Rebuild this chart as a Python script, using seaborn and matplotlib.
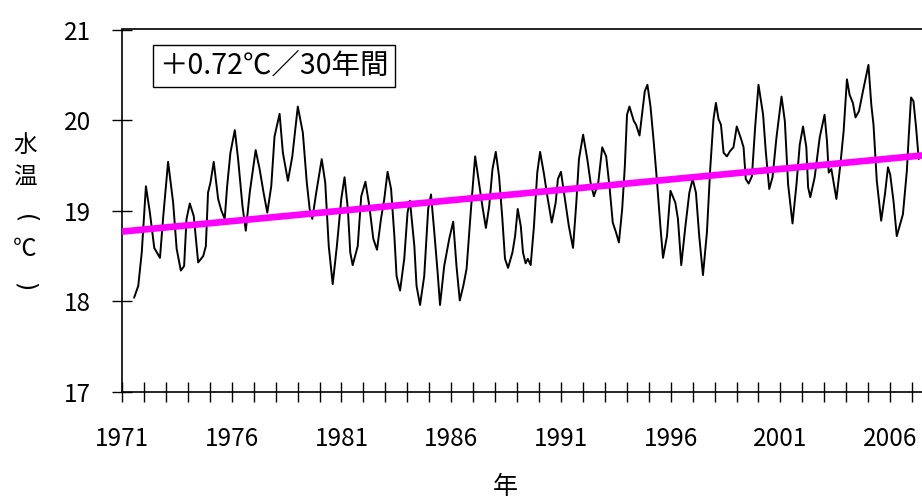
import matplotlib
matplotlib.use("Agg")
import matplotlib.pyplot as plt
import seaborn as sns
import numpy as np
import pandas as pd

# ---- data ----
years = [
    1971.55, 1971.74, 1971.90, 1972.09, 1972.27, 1972.47, 1972.73, 1972.88, 1973.10, 1973.33,
    1973.49, 1973.68, 1973.83, 1973.94, 1974.09, 1974.27, 1974.47, 1974.70, 1974.82, 1974.92,
    1975.03, 1975.18, 1975.38, 1975.53, 1975.68, 1975.79, 1975.94, 1976.14, 1976.29, 1976.49,
    1976.64, 1976.82, 1977.09, 1977.27, 1977.45, 1977.62, 1977.80, 1977.95, 1978.18,
    1978.33, 1978.56, 1978.76, 1979.01, 1979.24, 1979.42, 1979.55, 1979.67, 1979.85, 1980.10,
    1980.26, 1980.42, 1980.60, 1980.79, 1980.99, 1981.14, 1981.29, 1981.40, 1981.51, 1981.74,
    1981.90, 1982.09, 1982.27, 1982.45, 1982.62, 1982.80, 1982.95, 1983.10, 1983.26, 1983.41,
    1983.51, 1983.67, 1983.86, 1984.01, 1984.12, 1984.32, 1984.42, 1984.58, 1984.77, 1984.95,
    1985.08, 1985.23, 1985.38, 1985.49,
    1985.68, 1985.91, 1986.09, 1986.24, 1986.39, 1986.55, 1986.70, 1986.90, 1987.09, 1987.24,
    1987.42, 1987.58, 1987.73, 1987.88, 1988.03, 1988.18, 1988.33, 1988.45, 1988.59, 1988.79,
    1988.91, 1989.03, 1989.17, 1989.27, 1989.39, 1989.49, 1989.62, 1989.77, 1989.92, 1990.05,
    1990.23, 1990.38, 1990.58, 1990.76, 1990.86, 1991.00, 1991.18, 1991.36, 1991.55, 1991.70,
    1991.82, 1992.01, 1992.20, 1992.35, 1992.50, 1992.70, 1992.88,
    1993.06, 1993.21, 1993.36, 1993.51, 1993.64, 1993.79, 1993.91, 1994.01, 1994.12, 1994.32,
    1994.42, 1994.58, 1994.70, 1994.82, 1994.94, 1995.08, 1995.23, 1995.38, 1995.53, 1995.65,
    1995.83, 1995.99, 1996.21, 1996.33, 1996.48, 1996.67, 1996.85, 1997.00, 1997.15, 1997.30,
    1997.47, 1997.65, 1997.80, 1997.95, 1998.06, 1998.18, 1998.29, 1998.41, 1998.56, 1998.71,
    1998.86, 1999.01, 1999.21, 1999.32, 1999.42, 1999.55, 1999.70, 1999.85, 2000.00,
    2000.21, 2000.33, 2000.49, 2000.64, 2000.82, 2001.05, 2001.20, 2001.35, 2001.55, 2001.73,
    2001.88, 2002.03, 2002.18, 2002.26, 2002.36, 2002.56, 2002.79, 2003.01, 2003.12, 2003.20,
    2003.32, 2003.55, 2003.73, 2003.88, 2004.03, 2004.15, 2004.30, 2004.42, 2004.58, 2004.76,
    2005.01, 2005.14, 2005.24, 2005.39, 2005.59, 2005.76, 2005.90, 2006.00, 2006.15, 2006.30,
    2006.58, 2006.76, 2006.85, 2006.95, 2007.06, 2007.18, 2007.30,
]
temps = [
    18.04, 18.17, 18.54, 19.27, 18.98, 18.59, 18.48, 18.94, 19.54, 19.09,
    18.58, 18.34, 18.39, 18.91, 19.08, 18.94, 18.43, 18.50, 18.61, 19.20,
    19.31, 19.54, 19.13, 19.00, 18.91, 19.27, 19.64, 19.89, 19.57, 19.05,
    18.78, 19.20, 19.67, 19.46, 19.20, 18.98, 19.27, 19.82, 20.07,
    19.64, 19.33, 19.60, 20.15, 19.86, 19.31, 19.02, 18.91, 19.20, 19.57,
    19.31, 18.61, 18.19, 18.61, 19.13, 19.37, 19.02, 18.54, 18.40, 18.61,
    19.16, 19.32, 19.05, 18.69, 18.57, 18.91, 19.13, 19.43, 19.24, 18.72,
    18.28, 18.12, 18.47, 18.98, 19.11, 18.61, 18.17, 17.96, 18.28, 19.02,
    19.18, 18.76, 18.32, 17.96,
    18.39, 18.69, 18.88, 18.39, 18.01, 18.17, 18.36, 19.02, 19.60, 19.35,
    19.05, 18.81, 19.05, 19.46, 19.65, 19.38, 18.91, 18.47, 18.37, 18.54,
    18.72, 19.02, 18.83, 18.54, 18.42, 18.47, 18.40, 18.83, 19.42, 19.65,
    19.40, 19.16, 18.87, 19.09, 19.35, 19.43, 19.13, 18.83, 18.59, 19.09,
    19.57, 19.84, 19.57, 19.31, 19.16, 19.31, 19.70,
    19.60, 19.27, 18.87, 18.76, 18.65, 19.02, 19.49, 20.06, 20.15, 19.99,
    19.95, 19.83, 20.08, 20.32, 20.39, 20.15, 19.75, 19.31, 18.83, 18.48,
    18.72, 19.22, 19.09, 18.91, 18.40, 18.83, 19.20, 19.35, 19.20, 18.72,
    18.29, 18.76, 19.46, 20.01, 20.19, 20.01, 19.95, 19.64, 19.60, 19.66,
    19.70, 19.93, 19.79, 19.70, 19.35, 19.30, 19.38, 19.93, 20.39,
    20.06, 19.66, 19.24, 19.37, 19.81, 20.26, 19.99, 19.29, 18.86, 19.29,
    19.73, 19.93, 19.70, 19.26, 19.15, 19.37, 19.81, 20.06, 19.77, 19.42,
    19.46, 19.13, 19.51, 19.88, 20.45, 20.28, 20.19, 20.03, 20.10, 20.32,
    20.61, 20.17, 19.95, 19.33, 18.89, 19.18, 19.48, 19.40, 19.11, 18.72,
    18.96, 19.44, 19.84, 20.25, 20.21, 19.92, 19.57,
]

trend_years = [1971, 2007.45]
trend_values = [18.77, 19.61]

label_years = [1971, 1976, 1981, 1986, 1991, 1996, 2001, 2006]
y_ticks = [17, 18, 19, 20, 21]
annotation = "＋0.72℃／30年間"
ylabel_chars = ["水", "温", "(", "℃", ")"]
xlabel_text = "年"

# ---- build ----
sns.set_theme(style="white")
plt.rcParams['font.family'] = ['Noto Sans CJK JP', 'DejaVu Sans']

df = pd.DataFrame({"year": years, "temp": temps})
tdf = pd.DataFrame({"year": trend_years, "temp": trend_values})

W, H = 922, 503
fig = plt.figure(figsize=(W / 100, H / 100), dpi=100)
ax = fig.add_axes([122 / W, 1 - 392 / H, 800 / W, 362.5 / H])

sns.lineplot(data=df, x="year", y="temp", color="black", linewidth=1.4,
             sort=False, estimator=None, ax=ax, zorder=2)
sns.lineplot(data=tdf, x="year", y="temp", color="#FF00FF", linewidth=4.8,
             ax=ax, zorder=3)

ax.set_xlim(trend_years[0], trend_years[1])
ax.set_ylim(17, 21)
all_years = list(range(1971, 2008))
ax.set_xticks(all_years)
ax.set_xticklabels([str(y) if y in label_years else "" for y in all_years])
ax.set_yticks(y_ticks)
ax.set_yticklabels([str(v) for v in y_ticks])

ax.tick_params(axis="x", direction="inout", length=14.4, width=1.0, color="black",
               labelsize=17.5, pad=17, labelcolor="black")
ax.tick_params(axis="y", direction="inout", length=14.4, width=1.0, color="black",
               labelsize=17.5, pad=15, labelcolor="black")
ax.tick_params(bottom=True, left=True)

for side in ["left", "bottom", "top"]:
    ax.spines[side].set_visible(True)
    ax.spines[side].set_color("black")
    ax.spines[side].set_linewidth(1.2)
ax.spines["right"].set_visible(False)
ax.grid(False)
ax.set_facecolor("white")
ax.set_xlabel("")
ax.set_ylabel("")

# x axis title
fig.text(505 / W, 1 - 487 / H, xlabel_text, ha="center", va="center",
         fontsize=18, color="black")

# vertical y axis title, one character per line (parentheses turned sideways)
ylabel_ys = [145, 178, 219, 249, 287]
ylabel_rot = [0, 0, -90, 0, -90]
ylabel_fam = [None, None, "DejaVu Sans", None, "DejaVu Sans"]
for ch, yy, rot, fam in zip(ylabel_chars, ylabel_ys, ylabel_rot, ylabel_fam):
    kw = {"family": fam} if fam else {}
    fig.text(25 / W, 1 - yy / H, ch, ha="center", va="center", rotation=rot,
             fontsize=17, color="black", **kw)

ax.text((274 - 122) / 800, (392 - 66) / 362.5, annotation, transform=ax.transAxes,
        ha="center", va="center", fontsize=20.5, color="black",
        bbox=dict(boxstyle="square,pad=0.22", facecolor="white", edgecolor="black", linewidth=1.0))

fig.savefig("out.png", dpi=100, facecolor="white")
